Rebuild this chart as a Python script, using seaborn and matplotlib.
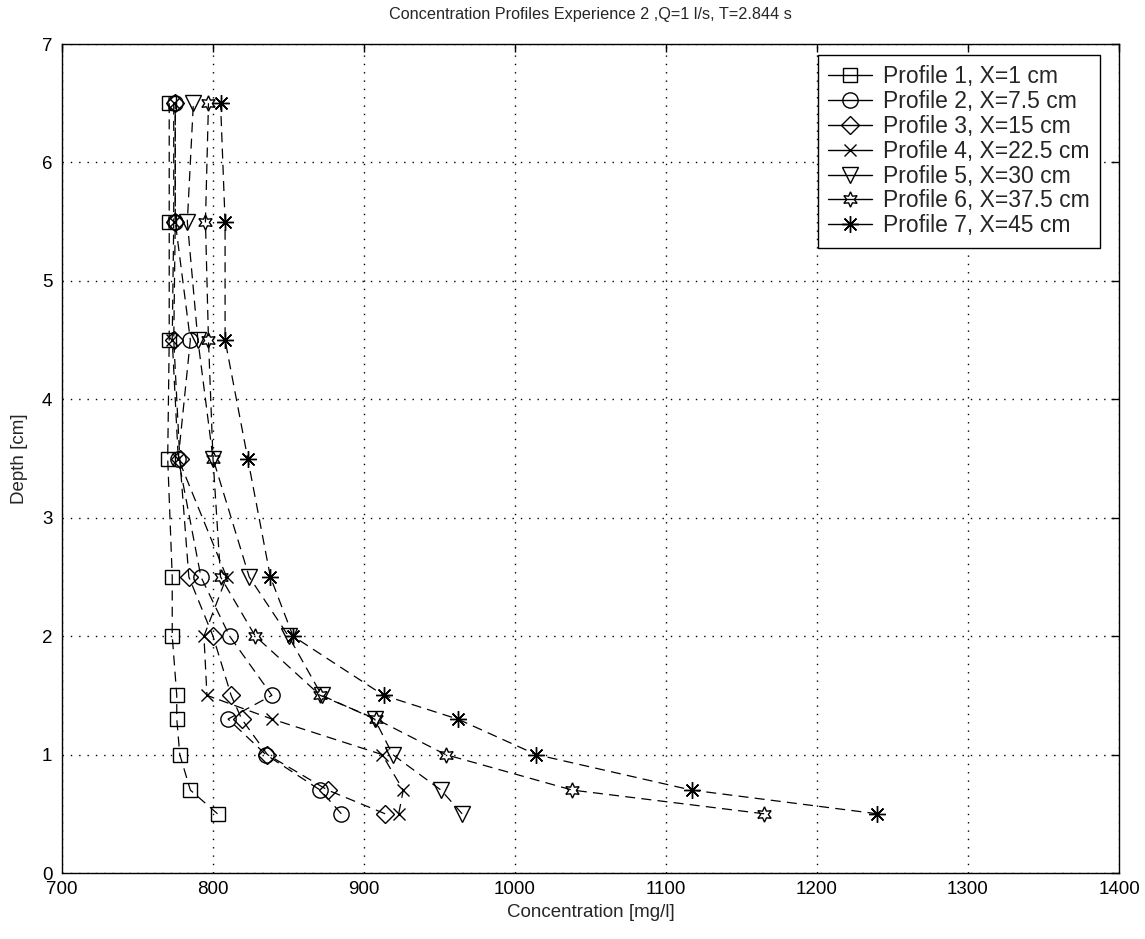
import matplotlib
matplotlib.use("Agg")
import matplotlib.pyplot as plt
import seaborn as sns
import pandas as pd
from matplotlib.lines import Line2D

# ---- data ----
depths = [0.5, 0.7, 1.0, 1.3, 1.5, 2.0, 2.5, 3.5, 4.5, 5.5, 6.5]
p1 = [803, 785, 778, 776, 776, 773, 773, 770, 771, 771, 771]
p2 = [885, 871, 835, 810, 839, 811, 792, 777, 785, 775, 775]
p3 = [914, 876, 836, 819, 812, 800, 784, 778, 774, 775, 775]
p4 = [923, 926, 912, 839, 796, 794, 809, 777, 773, 774, 774]
p5 = [965, 951, 919, 907, 872, 850, 824, 800, 790, 783, 787]
p6 = [1165, 1038, 954, 908, 871, 828, 805, 800, 797, 795, 797]
p7 = [1240, 1117, 1014, 962, 913, 853, 838, 823, 808, 808, 805]
labels = ["Profile 1, X=1 cm", "Profile 2, X=7.5 cm", "Profile 3, X=15 cm",
          "Profile 4, X=22.5 cm", "Profile 5, X=30 cm", "Profile 6, X=37.5 cm",
          "Profile 7, X=45 cm"]
series = [p1, p2, p3, p4, p5, p6, p7]
markers = ["s", "o", "D", "x", "v", (6, 1, 0), (8, 2, 0)]
msizes = [10, 11, 9, 8, 11, 11, 12]

sns.set_style("white")
plt.rcParams["font.family"] = ["Liberation Sans", "DejaVu Sans"]

fig = plt.figure(figsize=(11.45, 9.39), dpi=100)
ax = fig.add_axes([62 / 1145, 1 - 873 / 939, (1119 - 62) / 1145, (873 - 44) / 939])

for lab, vals, mk, ms in zip(labels, series, markers, msizes):
    df = pd.DataFrame({"conc": vals, "depth": depths})
    sns.lineplot(data=df, x="conc", y="depth", sort=False, estimator=None,
                 ax=ax, color="black", linewidth=0.9, linestyle=(0, (8, 5)),
                 marker=mk, markersize=ms, markerfacecolor="none",
                 markeredgecolor="black", markeredgewidth=1.0, legend=False)

ax.set_xlim(700, 1400)
ax.set_ylim(0, 7)
ax.set_xticks(range(700, 1401, 100))
ax.set_yticks(range(0, 8))
ax.grid(True, linestyle=(0, (1, 5)), color="black", linewidth=1.0)
for s in ax.spines.values():
    s.set_color("black")
    s.set_linewidth(1.0)
ax.tick_params(direction="in", length=6, width=1, top=True, right=True,
               labelsize=13.5, colors="black")
ax.tick_params(axis="x", pad=6)
ax.tick_params(axis="y", pad=7)
ax.set_xlabel("Concentration [mg/l]", fontsize=13.5, labelpad=4)
ax.set_ylabel("Depth [cm]", fontsize=13.5, labelpad=10)
ax.set_title("Concentration Profiles Experience 2 ,Q=1 l/s, T=2.844 s",
             fontsize=11.7, pad=18)

handles = [Line2D([0], [0], color="black", lw=1.0, marker=mk, markersize=ms,
                  markerfacecolor="none", markeredgecolor="black",
                  markeredgewidth=1.0)
           for mk, ms in zip(markers, msizes)]
leg = ax.legend(handles, labels, loc="upper right",
                bbox_to_anchor=((1100 - 62) / 1057, 1 - (55 - 44) / 829),
                borderaxespad=0, fontsize=16.5,
                frameon=True, fancybox=False, edgecolor="black", framealpha=1,
                labelspacing=0.08, handlelength=1.9,
                handletextpad=0.48, borderpad=0.45)
leg.get_frame().set_linewidth(1.0)

fig.savefig("out.png", dpi=100)
